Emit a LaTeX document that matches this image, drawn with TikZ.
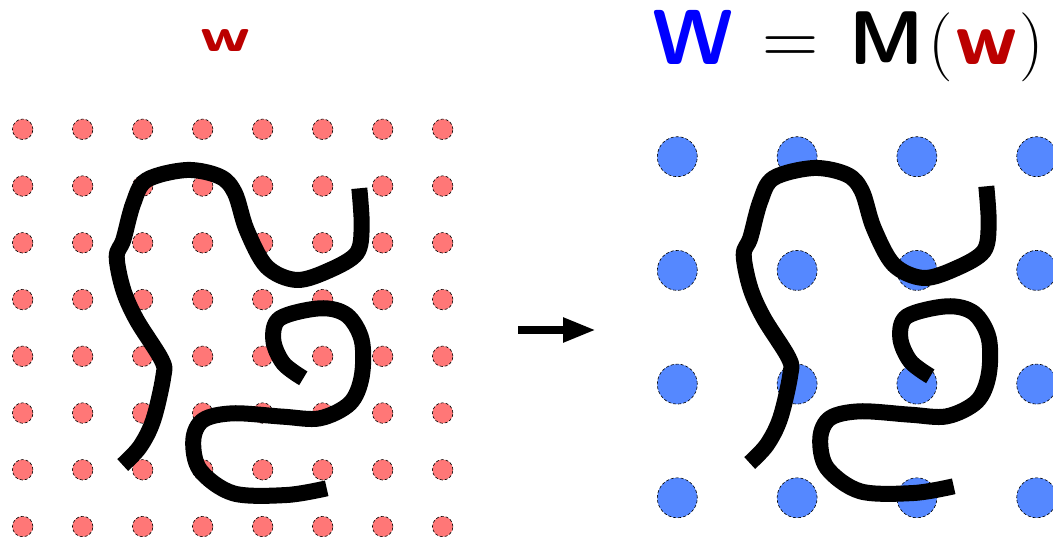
\documentclass[tikz,border=0pt]{standalone}
\usepackage{fontspec}
\usetikzlibrary{arrows.meta}
\definecolor{dotred}{RGB}{255,119,119}
\definecolor{dotblue}{RGB}{85,136,255}
\definecolor{wred}{RGB}{187,0,0}
\definecolor{wblue}{RGB}{0,0,255}
\tikzset{
  reddot/.style={circle,fill=dotred,draw=black,densely dashed,line width=0.6pt,minimum size=20.5pt,inner sep=0pt},
  bluedot/.style={circle,fill=dotblue,draw=black,densely dashed,line width=0.6pt,minimum size=40pt,inner sep=0pt},
  stroke/.style={line width=16pt,line cap=butt,line join=round,black},
  lbl/.style={inner sep=0pt,anchor=base west}
}
\newcommand{\squiggles}{%
  \draw[stroke] plot[smooth,tension=0.55] coordinates {(122.7,465) (140,446.7) (153.3,420) (163.3,376.7) (161.7,360) (136.7,320) (123.3,290) (116.7,256.7) (123.3,240) (133.3,203.3) (146.7,180) (186.7,170) (220,176.7) (235,193.3) (246.7,230) (266.7,266.7) (296.7,280) (330,270) (356.7,253.3) (361.7,226.7) (359.3,188.3)};
  \draw[stroke] plot[smooth,tension=0.55] coordinates {(303.3,378.3) (283.3,363.3) (273.3,340) (280,318.3) (320,308.3) (346.7,315) (361.7,340) (361.7,376.7) (350,403.3) (320,418.3) (283.3,416.7) (233.3,413.3) (203.3,420) (193.3,440) (200,470) (233.3,493.3) (286.7,495) (326.7,488.3)};
}
\begin{document}
\begin{tikzpicture}[x=1pt,y=-1pt]
\useasboundingbox (0,0) rectangle (1053,537);
% left grid
\foreach \i in {0,...,7}{
  \foreach \j in {0,...,7}{
    \node[reddot] (r\i\j) at ({22.7+60*\i},{129.3+56.75*\j}) {};
  }
}
\squiggles
% right grid
\foreach \i in {0,...,3}{
  \foreach \j in {0,...,3}{
    \node[bluedot] (b\i\j) at ({677.3+119.8*\i},{156.7+113.7*\j}) {};
  }
}
\begin{scope}[shift={(627,-2)}]
\squiggles
\end{scope}
% arrow
\coordinate (as) at (518,330);
\coordinate (ae) at (596,330);
\draw[line width=8pt,-{Triangle[length=33pt,width=23pt]}] (as) -- (ae);
% labels
\node[lbl,text=wred,font=\fontsize{48}{48}\selectfont\sffamily\bfseries] (lw) at (200,52) {\scalebox{1.4}[1]{w}};
\node[lbl,text=wblue,font=\fontsize{78}{78}\selectfont\sffamily\bfseries] (W) at (652,65) {W};
\node[lbl,font=\fontsize{78}{78}\selectfont] (eq) at (762,65) {=};
\node[lbl,font=\fontsize{76}{76}\selectfont\sffamily\bfseries] (M) at (849,65) {M};
\node[lbl,font=\fontsize{69}{69}\selectfont] (lp) at (928,65) {(};
\node[lbl,text=wred,font=\fontsize{76}{76}\selectfont\sffamily\bfseries] (rw) at (955,65) {\scalebox{1.1}[1]{w}};
\node[lbl,font=\fontsize{69}{69}\selectfont] (rp) at (1019,65) {)};
\end{tikzpicture}
\end{document}
